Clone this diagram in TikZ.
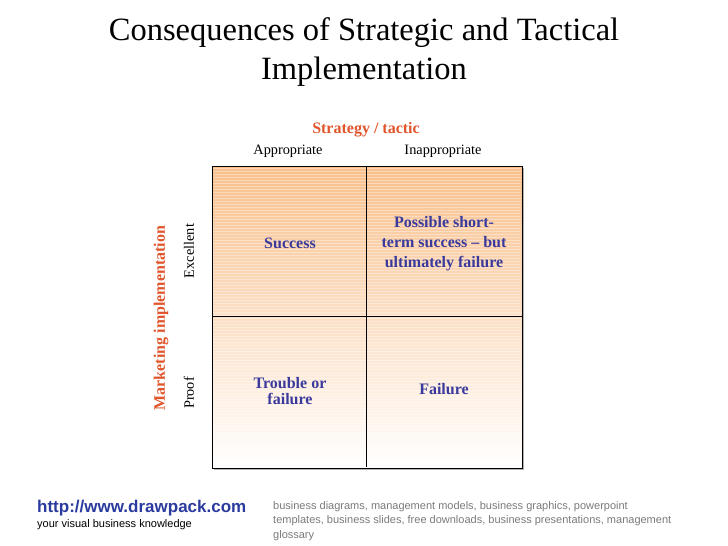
\documentclass[tikz,border=0pt]{standalone}
\usepackage{fontspec}
\setmainfont{Liberation Serif}
\newfontfamily\arialfont{Liberation Sans}
\definecolor{hdr}{HTML}{E0552B}
\definecolor{cell}{HTML}{3A3A9C}
\definecolor{topor}{HTML}{F9C08C}
\definecolor{link}{HTML}{2B3A9E}
\definecolor{foot}{HTML}{7A7A7A}
\tikzset{
  celltext/.style={font=\fontsize{16}{20}\selectfont\bfseries, text=cell, align=center},
  axistitle/.style={font=\fontsize{16}{18}\selectfont\bfseries, text=hdr},
  axislabel/.style={font=\fontsize{14.3}{16}\selectfont},
  gridline/.style={draw=black, line width=0.9pt}
}
\begin{document}
\begin{tikzpicture}[x=1pt,y=-1pt]
\useasboundingbox (0,0) rectangle (728,546);
% title
\node (t1) at (364,33) {\fontsize{32.5}{36}\selectfont Consequences of Strategic and Tactical};
\node (t2) at (364,72) {\fontsize{32.5}{36}\selectfont Implementation};
% grid background
\shade[top color=topor, bottom color=white] (212,166) rectangle (522,468);
\foreach \yy in {168,171,...,466} {
  \draw[white, opacity=0.35, line width=0.6pt] (213,\yy) -- (521,\yy);
}
\draw[gray!60, line width=1.2pt] (214,469.5) -- (523.5,469.5) -- (523.5,168);
\draw[gridline] (212,166) rectangle (522,468);
\coordinate (vt) at (366,166);
\coordinate (vb) at (366,467);
\coordinate (hl) at (212,316);
\coordinate (hr) at (522,316);
\draw[gridline] (vt) -- (vb);
\draw[gridline] (hl) -- (hr);
% headers
\node[axistitle] (st) at (366,130) {Strategy / tactic};
\node[axislabel] (ap) at (288,151) {Appropriate};
\node[axislabel] (inap) at (443,151) {Inappropriate};
\node[axistitle, rotate=90] (mi) at (161,318) {Marketing implementation};
\node[axislabel, rotate=90] (ex) at (189,251) {Excellent};
\node[axislabel, rotate=90] (pr) at (189,393) {Proof};
% cells
\node[celltext] (c1) at (290,243) {Success};
\node[celltext] (c2) at (444,244) {Possible short-\\term success -- but\\ultimately failure};
\node[celltext, font=\fontsize{16}{16}\selectfont\bfseries] (c3) at (290,391) {Trouble or\\failure};
\node[celltext] (c4) at (444,389) {Failure};
% footer
\node[anchor=west, inner sep=0pt, text=link, font=\arialfont\fontsize{17}{19}\selectfont\bfseries] (url) at (37,508) {http://www.drawpack.com};
\node[anchor=west, inner sep=0pt, font=\arialfont\fontsize{11}{13}\selectfont] (tag) at (37,525) {your visual business knowledge};
\node[anchor=north west, inner sep=0pt, text=foot, align=left, font=\arialfont\fontsize{11}{14.5}\selectfont] (kw) at (273,501) {business diagrams, management models, business graphics, powerpoint\\templates, business slides, free downloads, business presentations, management\\glossary};
\end{tikzpicture}
\end{document}
